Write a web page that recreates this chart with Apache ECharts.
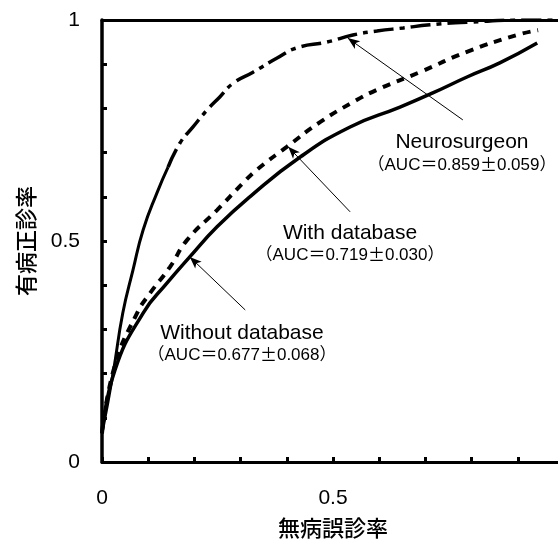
<!DOCTYPE html>
<html>
<head>
<meta charset="utf-8">
<script src="https://cdn.jsdelivr.net/npm/echarts@6/dist/echarts.min.js"></script>
<style>
  html, body { margin: 0; padding: 0; background: #fff; }
  #chart { width: 558px; height: 546px; }
</style>
</head>
<body>
<div id="chart"></div>
<script>
// ROC curves (x = 無病誤診率, y = 有病正診率)
const neuroFpr = [0, 0.024, 0.045, 0.067, 0.089, 0.119, 0.143, 0.169, 0.197, 0.227, 0.255, 0.284, 0.327, 0.379, 0.422, 0.487, 0.543, 0.595, 0.652, 0.710, 0.790, 0.933, 1]
const neuroTpr = [0.065, 0.201, 0.337, 0.434, 0.525, 0.609, 0.667, 0.722, 0.758, 0.796, 0.826, 0.857, 0.882, 0.914, 0.937, 0.950, 0.966, 0.975, 0.982, 0.989, 0.995, 1.0, 1.0]
const neuroSolidUntil = 7 // lower part of the neurosurgeon curve is drawn solid

const withFpr = [0, 0.028, 0.076, 0.104, 0.147, 0.184, 0.249, 0.305, 0.335, 0.400, 0.472, 0.543, 0.595, 0.688, 0.790, 0.898, 0.944]
const withTpr = [0.065, 0.219, 0.337, 0.382, 0.441, 0.502, 0.570, 0.631, 0.661, 0.713, 0.769, 0.814, 0.842, 0.882, 0.928, 0.966, 0.977]

const withoutFpr = [0, 0.028, 0.089, 0.141, 0.190, 0.249, 0.320, 0.429, 0.537, 0.645, 0.716, 0.790, 0.861, 0.942]
const withoutTpr = [0.065, 0.208, 0.337, 0.405, 0.464, 0.532, 0.600, 0.690, 0.758, 0.803, 0.835, 0.871, 0.903, 0.948]

const tickLabels = ['0', '0.5', '1']

// annotation arrows, [tail, head] in data units
const arrowNeuro = [[0.781, 0.774], [0.532, 0.959]]
const arrowWith = [[0.537, 0.566], [0.403, 0.713]]
const arrowWithout = [[0.310, 0.344], [0.190, 0.464]]

const curveNames = ['Neurosurgeon', 'With database', 'Without database']
const aucTexts = ['（AUC＝0.859{pm|±}0.059）', '（AUC＝0.719{pm|±}0.030）', '（AUC＝0.677{pm|±}0.068）']

const FONT = "'Liberation Sans', 'Noto Sans CJK JP', sans-serif"
const CJK = "'Noto Sans CJK JP', sans-serif"

function pairs(xs, ys) {
  return xs.map((x, i) => [x, ys[i]])
}

function fmt(v) {
  const s = String(Math.round(v * 10) / 10)
  return tickLabels.includes(s) ? s : ''
}

function arrow(a) {
  return [
    { coord: a[0], symbol: 'none' },
    { coord: a[1], symbol: 'arrow' },
  ]
}

function arrowLine(a) {
  return {
    silent: true,
    symbolSize: [7, 12],
    lineStyle: { color: '#000', width: 1, type: 'solid' },
    label: { show: false },
    data: [arrow(a)],
  }
}

function nameText(x, y, text) {
  return {
    type: 'text', x, y,
    style: { text, fontFamily: FONT, fontSize: 21, fill: '#000', align: 'center', verticalAlign: 'middle' },
  }
}

function aucText(x, y, text) {
  return {
    type: 'text', x, y,
    style: {
      text, fontFamily: FONT, fontSize: 17, fill: '#000', align: 'center', verticalAlign: 'middle',
      rich: { pm: { fontFamily: CJK, fontSize: 17, fill: '#000' } },
    },
  }
}

const neuroAll = pairs(neuroFpr, neuroTpr)

const chart = echarts.init(document.getElementById('chart'))

chart.setOption({
  animation: false,
  backgroundColor: '#fff',
  grid: { left: 102, right: -6, top: 20, bottom: 84, outerBoundsMode: 'none', containLabel: false },
  xAxis: [
    {
      type: 'value',
      min: 0,
      max: 1,
      interval: 0.1,
      name: '無病誤診率',
      nameLocation: 'middle',
      nameGap: 55,
      nameTextStyle: { fontFamily: CJK, fontSize: 22, color: '#000', fontWeight: 500 },
      axisLine: { show: true, lineStyle: { color: '#000', width: 3 } },
      axisTick: { show: true, inside: true, length: 5, lineStyle: { color: '#000', width: 3 } },
      axisLabel: { formatter: fmt, margin: 26, fontFamily: FONT, fontSize: 21, color: '#000' },
      splitLine: { show: false },
    },
    {
      type: 'value',
      position: 'top',
      min: 0,
      max: 1,
      axisLine: { show: true, onZero: false, lineStyle: { color: '#000', width: 3 } },
      axisTick: { show: false },
      axisLabel: { show: false },
      splitLine: { show: false },
    },
  ],
  yAxis: {
    type: 'value',
    min: 0,
    max: 1,
    interval: 0.1,
    name: '有病正診率',
    nameLocation: 'middle',
    nameGap: 65,
    nameRotate: 90,
    nameTextStyle: { fontFamily: CJK, fontSize: 22, color: '#000', fontWeight: 500 },
    axisLine: { show: true, lineStyle: { color: '#000', width: 3.5 } },
    axisTick: { show: true, inside: true, length: 5, lineStyle: { color: '#000', width: 3 } },
    axisLabel: { formatter: fmt, margin: 22, fontFamily: FONT, fontSize: 21, color: '#000' },
    splitLine: { show: false },
  },
  series: [
    {
      name: curveNames[0] + ' (lower)',
      type: 'line',
      smooth: 0.5,
      symbol: 'none',
      data: neuroAll.slice(0, neuroSolidUntil),
      lineStyle: { color: '#000', width: 3 },
    },
    {
      name: curveNames[0],
      type: 'line',
      smooth: 0.5,
      symbol: 'none',
      data: neuroAll.slice(neuroSolidUntil - 1),
      lineStyle: { color: '#000', width: 3.5, type: [20, 6, 5, 6] },
      markLine: arrowLine(arrowNeuro),
    },
    {
      name: curveNames[1],
      type: 'line',
      smooth: 0.5,
      symbol: 'none',
      data: pairs(withFpr, withTpr),
      lineStyle: { color: '#000', width: 4, type: [8, 7] },
      markLine: arrowLine(arrowWith),
    },
    {
      name: curveNames[2],
      type: 'line',
      smooth: 0.5,
      symbol: 'none',
      data: pairs(withoutFpr, withoutTpr),
      lineStyle: { color: '#000', width: 3.5 },
      markLine: arrowLine(arrowWithout),
    },
  ],
  graphic: [
    nameText(462, 142, curveNames[0]),
    aucText(462, 165, aucTexts[0]),
    nameText(350, 233, curveNames[1]),
    aucText(350, 255, aucTexts[1]),
    nameText(242, 333, curveNames[2]),
    aucText(242, 355, aucTexts[2]),
  ],
})
</script>
</body>
</html>
